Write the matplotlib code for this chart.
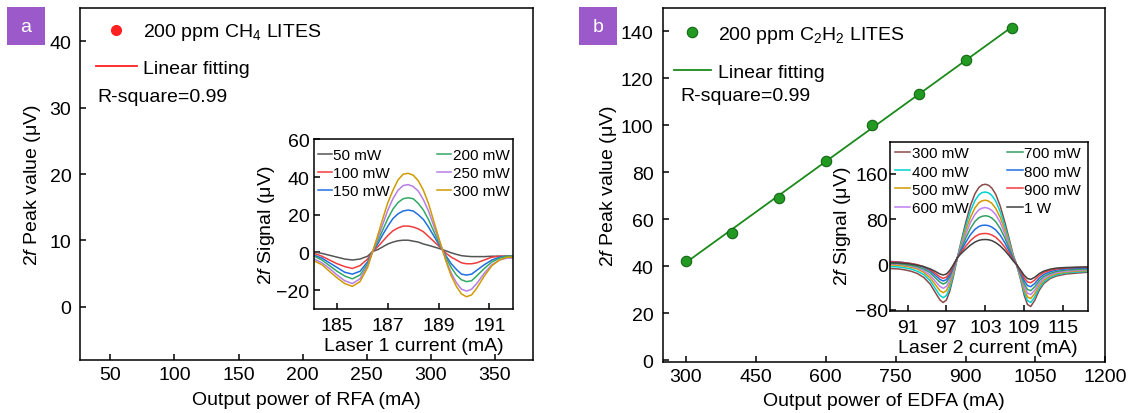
import matplotlib
matplotlib.use("Agg")
import matplotlib.pyplot as plt
from matplotlib.patches import Rectangle

plt.rcParams['font.family'] = ['Liberation Sans', 'DejaVu Sans']
plt.rcParams['mathtext.fontset'] = 'custom'
plt.rcParams['mathtext.rm'] = 'Liberation Sans'
plt.rcParams['mathtext.it'] = 'Liberation Sans:italic'
plt.rcParams['axes.linewidth'] = 1.1

# ---------------- data ----------------
# panel a main (no points visible in the reference)
ch4_power = []
ch4_peak = []

# panel b main
c2h2_power = [300, 400, 500, 600, 700, 800, 900, 1000]
c2h2_peak = [42, 54, 69, 85, 100, 113.5, 128, 141.5]
c2h2_fit_x = [300, 1000]
c2h2_fit_y = [41.5, 142]

# inset a
ia_labels = ['50 mW', '100 mW', '150 mW', '200 mW', '250 mW', '300 mW']
ia_colors = ['#555555', '#f03c3c', '#1f6fe0', '#33a866', '#b57ee6', '#d09a00']
ia_x = [184.1, 184.4, 184.7, 185.0, 185.3, 185.6, 185.9, 186.2, 186.4, 186.6,
        186.8, 187.0, 187.2, 187.4, 187.6, 187.8, 188.0, 188.2, 188.4, 188.6,
        188.8, 189.0, 189.15, 189.3, 189.5, 189.7, 189.9, 190.1, 190.3, 190.5,
        190.8, 191.1, 191.4, 191.7, 191.9]
ia_50 = [0.3, -0.5, -1.5, -2.5, -3.5, -4, -3.5, -2, 0.5, 1.5,
         3, 4.5, 5.5, 6.2, 6.5, 6.5, 6, 5.5, 4.5, 3.8,
         3, 2.2, 1.5, 0.8, -0.2, -1, -1.7, -2, -2.2, -2.2,
         -2.2, -2, -2, -2, -2]
ia_100 = [-0.5, -2, -4, -6, -7.5, -8.5, -7, -3.5, 0.5, 3,
          6, 9, 11.5, 13, 14, 14, 13.5, 12.5, 11, 8.5,
          6, 3.5, 1.5, -0.5, -2.5, -4, -5.5, -6, -6, -5.5,
          -4, -2.5, -2, -2, -2]
ia_150 = [-1.5, -3, -5.5, -8, -10.5, -11.5, -10, -5, 0.5, 4.5,
          9.5, 14, 18, 20.5, 22, 22.5, 22, 20, 17.5, 13.5,
          9, 4.5, 1.5, -2, -6, -9, -11.5, -12, -11.5, -9.5,
          -6.5, -4, -2.5, -2, -2]
ia_200 = [-2, -4, -7, -10, -12.5, -14, -12, -6, 0.5, 6,
          12, 18, 23, 26.5, 28.5, 29, 28.5, 26, 22.5, 17.5,
          11.5, 5.5, 1.5, -3, -8, -12, -14.5, -15.5, -15, -12.5,
          -8.5, -5, -3, -2, -2]
ia_250 = [-3.5, -5.5, -8.5, -12, -15, -16.5, -14, -7, 0.5, 7.5,
          15, 22.5, 28.5, 33, 35.5, 36, 35, 32.5, 28, 22,
          14.5, 7, 1.5, -4.5, -11, -16, -19.5, -20.5, -19.5, -16.5,
          -11, -6.5, -4, -3, -3]
ia_300 = [-4.5, -6.5, -10, -13.5, -16.5, -18, -15.5, -8, 0.5, 9,
          18, 26.5, 33, 38.5, 41.5, 42, 41, 38, 33, 26,
          17, 8, 1.5, -5, -12.5, -18, -22, -23.5, -22.5, -19,
          -12.5, -7, -4, -2.5, -2.5]
ia_series = [ia_50, ia_100, ia_150, ia_200, ia_250, ia_300]

# inset b
ib_labels = ['300 mW', '400 mW', '500 mW', '600 mW', '700 mW', '800 mW', '900 mW', '1 W']
ib_colors = ['#8b4a4a', '#00d2d2', '#d09a00', '#c07ff0', '#33a060', '#1f6fe0', '#f03c3c', '#404040']
ib_x = [88.5, 89.5, 90.5, 91.5, 92.5, 93.5, 94.5, 95.3, 96.0, 96.5,
        97.0, 97.5, 98.0, 98.7, 99.3, 100.0, 100.7, 101.4, 102.0, 102.5,
        103.0, 103.5, 104.0, 104.6, 105.3, 106.0, 106.7, 107.3, 107.8, 108.4,
        109.0, 109.5, 110.0, 110.6, 111.3, 112.0, 113.0, 114.0, 115.5, 117.0, 118.7]
ib_300 = [-7.5, -8, -9.5, -12, -16, -23, -35, -50, -63, -67.5,
          -63, -48, -25, 12, 42, 75, 104, 125, 136, 140.5,
          141.7, 140, 135, 124, 103, 75, 44, 17, 0, -25,
          -55, -71, -74.5, -64, -46, -34, -25, -20.5, -17, -15.5, -14]
ib_400 = [-4, -4.5, -6, -8, -12, -18, -29, -43, -55, -58.8,
          -55, -42, -21, 12, 39, 68, 94, 113, 123, 127,
          128, 126.5, 122, 112, 93, 68, 40, 15, 0, -23,
          -50, -64, -67.5, -58, -42, -31, -23, -18.5, -15, -13.5, -12.5]
ib_500 = [-1, -1.5, -3, -5, -8, -14, -24, -36, -46.5, -50,
          -46.5, -35, -17, 12, 35, 61, 83, 100, 109, 112.5,
          113.5, 112, 108, 99, 83, 61, 36, 14, 0, -21,
          -45, -57.5, -60.5, -52, -37.5, -28, -20.5, -16.5, -13.5, -12, -11]
ib_600 = [1, 0.5, -1, -3, -6, -11, -19.5, -30, -39, -42.3,
          -39, -29, -13, 12, 32, 54, 74, 88.5, 96.5, 99.5,
          100.5, 99, 95.5, 88, 74, 54.5, 32, 12.5, 0, -18.5,
          -40, -51, -53.5, -46, -33.5, -25, -18.5, -14.5, -12, -10.5, -9.5]
ib_700 = [2, 1.5, 0, -1.5, -4, -8, -15, -24, -31.5, -34.7,
          -32, -23, -9, 12, 28, 47, 63.5, 76, 82.5, 85,
          86, 85, 82, 75.5, 63.5, 47, 28, 11, 0, -16,
          -34.5, -44.5, -46.5, -40, -29, -21.5, -16, -12.5, -10, -9, -8]
ib_800 = [5, 4.5, 3, 1.5, -1, -5, -11.5, -19.5, -26.5, -29.4,
          -27, -19, -6.5, 12, 25, 39.5, 52.5, 62, 67, 69,
          69.4, 68.5, 66, 61, 51.5, 38.5, 23, 9, 0, -13.5,
          -29, -37.5, -39.5, -34, -24.5, -18, -13, -10, -8, -7, -6.5]
ib_900 = [4.5, 4, 3, 1.5, -0.5, -4, -9.5, -16, -22, -24.7,
          -22.5, -15.5, -4.5, 12, 22, 32.5, 42, 49, 53, 54.3,
          54.7, 54, 52, 48, 40.5, 30.5, 18.5, 7.5, 0, -11.5,
          -24, -31, -32.5, -28, -20, -14.5, -10.5, -8, -6.5, -5.5, -5]
ib_1000 = [3, 2.5, 2, 0.5, -1.5, -4, -8, -12.5, -17, -18.8,
           -17, -11, -2, 12, 19.5, 27, 34, 39.5, 42.5, 43.7,
           44, 43.5, 42, 38.5, 32.5, 24.5, 15, 6, 0, -9.5,
           -19.5, -25, -26.5, -23, -16.5, -12, -8.5, -6.5, -5.5, -5, -4.5]
ib_series = [ib_300, ib_400, ib_500, ib_600, ib_700, ib_800, ib_900, ib_1000]

# ---------------- figure ----------------
W, H = 1134, 414
fig = plt.figure(figsize=(W / 100, H / 100), dpi=100)

def rect(l, t, r, b):
    return [l / W, 1 - b / H, (r - l) / W, (b - t) / H]

axA = fig.add_axes(rect(80.4, 9, 532.9, 361))
axB = fig.add_axes(rect(662.5, 9, 1105.4, 362.7))
insA = fig.add_axes(rect(314.3, 140, 512.7, 310))
insB = fig.add_axes(rect(890, 142.7, 1087.8, 312.3))

for ax in (axA, axB):
    ax.tick_params(direction='in', length=4, width=1.1, labelsize=14, top=False, right=False)
    ax.tick_params(axis='x', pad=4.5)
    ax.tick_params(axis='y', pad=6.5)
for ax in (insA, insB):
    ax.tick_params(direction='in', length=4, width=1.1, labelsize=14, top=False, right=False)
    ax.tick_params(axis='x', pad=5.5)
insA.tick_params(axis='y', pad=3.5)
insB.tick_params(axis='y', pad=1.5)

# ---- panel a main
red = '#ff2020'
axA.plot(ch4_power, ch4_peak, 'o', color=red, ms=7, label='200 ppm CH$_4$ LITES')
axA.plot(ch4_power, ch4_peak, '-', color=red, lw=1.3, label='Linear fitting')
axA.set_xlim(26.6, 379.6)
axA.set_ylim(-8, 45)
axA.set_xticks([50, 100, 150, 200, 250, 300, 350])
axA.set_yticks([0, 10, 20, 30, 40])
axA.set_xlabel('Output power of RFA (mA)', fontsize=14)
axA.set_ylabel('$\\mathit{2f}$ Peak value (μV)', fontsize=14)
axA.xaxis.set_label_coords(0.5, -0.088)
axA.yaxis.set_label_coords(-0.083, 0.5)
axA.legend(loc='upper left', bbox_to_anchor=(0.0345, 0.962), frameon=False, fontsize=14,
           handlelength=2.1, handletextpad=0.3, borderpad=0, borderaxespad=0, labelspacing=0.87)
axA.text(0.0373, 0.748, 'R-square=0.99', transform=axA.transAxes, fontsize=14, va='center', ha='left')

# ---- panel b main
green = '#1b8a1b'
axB.plot(c2h2_fit_x, c2h2_fit_y, '-', color=green, lw=1.3, label='Linear fitting', zorder=2)
axB.plot(c2h2_power, c2h2_peak, 'o', color='#229a22', mec='#146614', mew=0.8, ms=7.5,
         label='200 ppm C$_2$H$_2$ LITES', zorder=3)
axB.set_xlim(250, 1200)
axB.set_ylim(-0.7, 150)
axB.set_xticks([300, 450, 600, 750, 900, 1050, 1200])
axB.set_yticks([0, 20, 40, 60, 80, 100, 120, 140])
axB.set_xlabel('Output power of EDFA (mA)', fontsize=14)
axB.set_ylabel('$\\mathit{2f}$ Peak value (μV)', fontsize=14)
axB.xaxis.set_label_coords(0.5, -0.086)
axB.yaxis.set_label_coords(-0.098, 0.5)
h, l = axB.get_legend_handles_labels()
axB.legend([h[1], h[0]], [l[1], l[0]], loc='upper left', bbox_to_anchor=(0.026, 0.956),
           frameon=False, fontsize=14, handlelength=1.9, handletextpad=0.35,
           borderpad=0, borderaxespad=0, labelspacing=0.95)
axB.text(0.0413, 0.752, 'R-square=0.99', transform=axB.transAxes, fontsize=14, va='center', ha='left')

# ---- inset a
for ys, lab, c in zip(ia_series, ia_labels, ia_colors):
    insA.plot(ia_x, ys, '-', color=c, lw=1.1, label=lab)
insA.set_xlim(184.1, 191.92)
insA.set_ylim(-30, 60.2)
insA.set_xticks([185, 187, 189, 191])
insA.set_yticks([-20, 0, 20, 40, 60])
insA.set_xlabel('Laser 1 current (mA)', fontsize=14)
insA.set_ylabel('$\\mathit{2f}$ Signal (μV)', fontsize=14)
insA.xaxis.set_label_coords(0.5, -0.165)
insA.yaxis.set_label_coords(-0.188, 0.5)
insA.legend(loc='upper left', bbox_to_anchor=(0.0186, 0.947), ncol=2, frameon=False, fontsize=11,
            handlelength=0.9, handletextpad=0.1, borderpad=0, borderaxespad=0,
            labelspacing=0.26, columnspacing=3.1)

# ---- inset b
for ys, lab, c in zip(ib_series, ib_labels, ib_colors):
    insB.plot(ib_x, ys, '-', color=c, lw=1.1, label=lab)
insB.set_xlim(88.3, 118.8)
insB.set_ylim(-83, 217)
insB.set_xticks([91, 97, 103, 109, 115])
insB.set_yticks([-80, 0, 80, 160])
insB.set_xlabel('Laser 2 current (mA)', fontsize=14)
insB.set_ylabel('$\\mathit{2f}$ Signal (μV)', fontsize=14)
insB.xaxis.set_label_coords(0.495, -0.163)
insB.yaxis.set_label_coords(-0.187, 0.505)
insB.legend(loc='upper left', bbox_to_anchor=(0.025, 0.973), ncol=2, frameon=False, fontsize=11,
            handlelength=1.0, handletextpad=0.1, borderpad=0, borderaxespad=0,
            labelspacing=0.28, columnspacing=2.55)

# ---- panel letters
purple = '#9b59c9'
for (l, t, r, b), letter in [((7, 8, 45, 46), 'a'), ((579, 8, 617, 46), 'b')]:
    fig.add_artist(Rectangle((l / W, 1 - b / H), (r - l) / W, (b - t) / H,
                             transform=fig.transFigure, facecolor=purple, edgecolor='none'))
    fig.text((l + r) / 2 / W, 1 - (t + b) / 2 / H, letter, color='white', fontsize=14,
             ha='center', va='center')

fig.savefig('out.png', dpi=100)
